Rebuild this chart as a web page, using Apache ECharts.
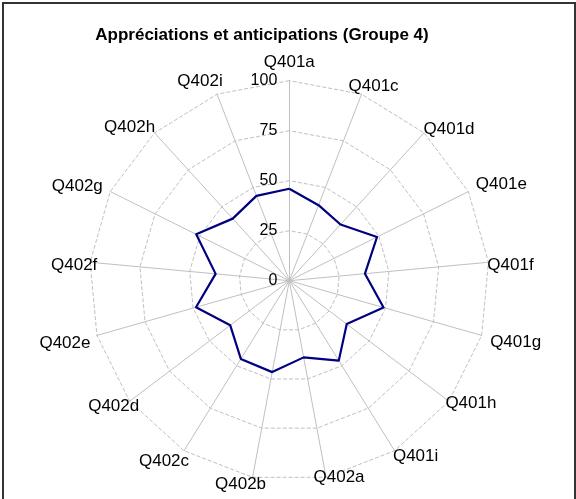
<!DOCTYPE html>
<html>
<head>
<meta charset="utf-8">
<script src="https://cdn.jsdelivr.net/npm/echarts@6/dist/echarts.min.js"></script>
<style>
  html, body { margin: 0; padding: 0; background: #fff; }
  #chart { width: 576px; height: 499px; }
</style>
</head>
<body>
<div id="chart"></div>
<script>
// Radar axes, clockwise from the top
const categories = [
  'Q401a', 'Q401c', 'Q401d', 'Q401e', 'Q401f', 'Q401g', 'Q401h', 'Q401i',
  'Q402a', 'Q402b', 'Q402c', 'Q402d', 'Q402e', 'Q402f', 'Q402g', 'Q402h', 'Q402i'
];
// Group 4 scores (0-100), same order as categories
const groupe4 = [46, 40.5, 38, 49, 38, 49, 36, 47, 39, 46.5, 46, 37, 48.5, 37, 52, 42, 45.5];
const scaleMax = 100;
const scaleSteps = 4; // ticks: 0, 25, 50, 75, 100

const FONT = 'Liberation Sans, Arial, sans-serif';

// Nudge of each axis name (px, right/down) from the tip of its axis
const nameNudge = [
  [0, -18], [12, -8], [25, -4], [33, -7], [22, 3], [34, 7], [22, 2], [21, 6],
  [13, 0], [-12, 7], [-20, 11], [-16, 5], [-32, 8], [-16, 3], [-33, -5], [-25, -6], [-17, -13]
];

// ECharts lays radar axes out counter-clockwise; keep the first axis at the
// top and reverse the rest so the categories run clockwise.
const order = [0].concat(categories.map((_, i) => i).slice(1).reverse());

const indicators = order.map((idx, k) => {
  const ind = { name: categories[idx], min: 0, max: scaleMax };
  if (k === 0) {
    ind.axisLabel = { show: true };
  }
  return ind;
});
const values = order.map(idx => groupe4[idx]);

// One rich style per axis name; padding moves the centred text by half its size
const nameRich = {};
categories.forEach((name, i) => {
  const [sx, sy] = nameNudge[i];
  nameRich['n' + i] = {
    fontFamily: FONT,
    fontSize: 17,
    color: '#000',
    padding: [Math.max(0, 2 * sy), Math.max(0, -2 * sx), Math.max(0, -2 * sy), Math.max(0, 2 * sx)]
  };
});

const chart = echarts.init(document.getElementById('chart'), null, { renderer: 'canvas' });
chart.setOption({
  backgroundColor: '#ffffff',
  animation: false,
  title: {
    text: 'Appréciations et anticipations (Groupe 4)',
    left: 257,
    top: 22,
    textAlign: 'center',
    textStyle: { fontFamily: FONT, fontSize: 17, fontWeight: 'bold', color: '#000' }
  },
  graphic: [{
    type: 'rect',
    shape: { x: 3, y: 3, width: 572, height: 505 },
    style: { fill: 'none', stroke: '#333333', lineWidth: 2 },
    silent: true
  }],
  radar: {
    center: [289.3, 280.7],
    radius: 200,
    startAngle: 90,
    shape: 'polygon',
    splitNumber: scaleSteps,
    indicator: indicators,
    nameGap: 0,
    axisName: {
      color: '#000',
      fontFamily: FONT,
      fontSize: 17,
      align: 'center',
      verticalAlign: 'middle',
      formatter: name => '{n' + categories.indexOf(name) + '|' + name + '}',
      rich: nameRich
    },
    axisLine: { lineStyle: { color: '#c0c0c0', width: 1 } },
    splitLine: { lineStyle: { color: '#c0c0c0', width: 1, type: [4, 2] } },
    splitArea: { show: false },
    axisTick: { show: false },
    axisLabel: {
      show: false,
      color: '#000',
      fontFamily: FONT,
      fontSize: 16,
      margin: 12
    }
  },
  series: [{
    type: 'radar',
    symbol: 'none',
    lineStyle: { color: '#000080', width: 2.2 },
    data: [{ value: values, name: 'Groupe 4' }]
  }]
});
</script>
</body>
</html>
